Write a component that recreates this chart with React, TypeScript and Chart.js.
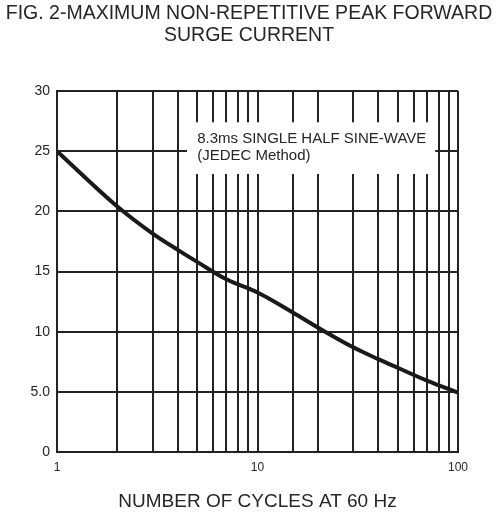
import React, { useEffect, useRef } from "react";
import { Chart, registerables } from "chart.js";

Chart.register(...registerables);

// Data
const cycles = [1, 2, 3, 4, 5, 7, 10, 15, 20, 30, 40, 50, 70, 100];
const surgeCurrent = [25.0, 20.4, 18.15, 16.8, 15.8, 14.35, 13.25, 11.6, 10.35, 8.7, 7.72, 7.0, 5.93, 4.93];

const xTickLabels = [1, 10, 100];
const yTickLabels = ["0", "5.0", "10", "15", "20", "25", "30"];

const titleLines = ["FIG. 2-MAXIMUM NON-REPETITIVE PEAK FORWARD", "SURGE CURRENT"];
const xAxisTitle = "NUMBER OF CYCLES AT 60 Hz";
const noteLines = ["8.3ms SINGLE HALF SINE-WAVE", "(JEDEC Method)"];

// Note box extent, in data units
const noteXRange = [4.45, 77];
const noteYRange = [23.1, 27.4];
const noteTextX = 5.0;
const noteTextY = [26.0, 24.6];

const FONT = "'Liberation Sans', Arial, Helvetica, sans-serif";
const TEXT = "#262626";
const GRID = "#222222";

const notePlugin = {
  id: "noteBox",
  beforeDatasetsDraw(chart: any) {
    const { ctx, scales } = chart;
    const x = scales.x;
    const y = scales.y;
    const l = x.getPixelForValue(noteXRange[0]);
    const r = x.getPixelForValue(noteXRange[1]);
    const t = y.getPixelForValue(noteYRange[1]);
    const b = y.getPixelForValue(noteYRange[0]);
    ctx.save();
    ctx.fillStyle = "#ffffff";
    ctx.fillRect(l, t, r - l, b - t);
    ctx.fillStyle = TEXT;
    ctx.font = `15px ${FONT}`;
    ctx.textBaseline = "middle";
    ctx.textAlign = "left";
    noteLines.forEach((line, i) => {
      ctx.fillText(line, x.getPixelForValue(noteTextX), y.getPixelForValue(noteTextY[i]));
    });
    ctx.restore();
  },
};

export default function App() {
  const ref = useRef<HTMLCanvasElement | null>(null);

  useEffect(() => {
    document.body.style.margin = "0";
    const canvas = ref.current;
    if (!canvas) return;
    const chart = new Chart(canvas, {
      type: "line",
      data: {
        datasets: [
          {
            data: cycles.map((c, i) => ({ x: c, y: surgeCurrent[i] })),
            borderColor: "#1a1a1a",
            borderWidth: 4,
            pointRadius: 0,
            cubicInterpolationMode: "monotone",
            fill: false,
          },
        ],
      },
      options: {
        animation: false,
        responsive: false,
        devicePixelRatio: 1,
        layout: { padding: 0 },
        plugins: {
          legend: { display: false },
          tooltip: { enabled: false },
          title: {
            display: true,
            text: titleLines,
            color: TEXT,
            font: { family: FONT, size: 19.5, weight: "normal", lineHeight: 22 / 19.5 },
            padding: { top: 3, bottom: 44 },
          },
        },
        scales: {
          x: {
            type: "logarithmic",
            min: 1,
            max: 100,
            afterFit: (s: any) => {
              s.height = 61;
            },
            grid: { color: GRID, lineWidth: 2, drawTicks: false },
            border: { display: true, color: GRID, width: 2 },
            ticks: {
              autoSkip: false,
              maxRotation: 0,
              padding: 8,
              color: TEXT,
              font: { family: FONT, size: 12 },
              callback: (v: any) => (xTickLabels.includes(Number(v)) ? String(v) : ""),
            },
            title: {
              display: true,
              text: xAxisTitle,
              color: TEXT,
              font: { family: FONT, size: 19 },
              padding: { top: 0, bottom: 0 },
            },
          },
          y: {
            min: 0,
            max: 30,
            afterFit: (s: any) => {
              s.width = 57;
            },
            grid: { color: GRID, lineWidth: 2, drawTicks: false },
            border: { display: true, color: GRID, width: 2 },
            ticks: {
              stepSize: 5,
              padding: 7,
              color: TEXT,
              font: { family: FONT, size: 14 },
              callback: (v: any) => yTickLabels[Math.round(Number(v) / 5)] ?? "",
            },
          },
          spacer: {
            position: "right",
            display: true,
            min: 0,
            max: 1,
            afterFit: (s: any) => {
              s.width = 40;
            },
            grid: { display: false, drawTicks: false },
            border: { display: false },
            ticks: { display: false },
          },
        },
      },
      plugins: [notePlugin],
    } as any);
    return () => chart.destroy();
  }, []);

  return <canvas ref={ref} width={498} height={513} style={{ display: "block" }} />;
}
